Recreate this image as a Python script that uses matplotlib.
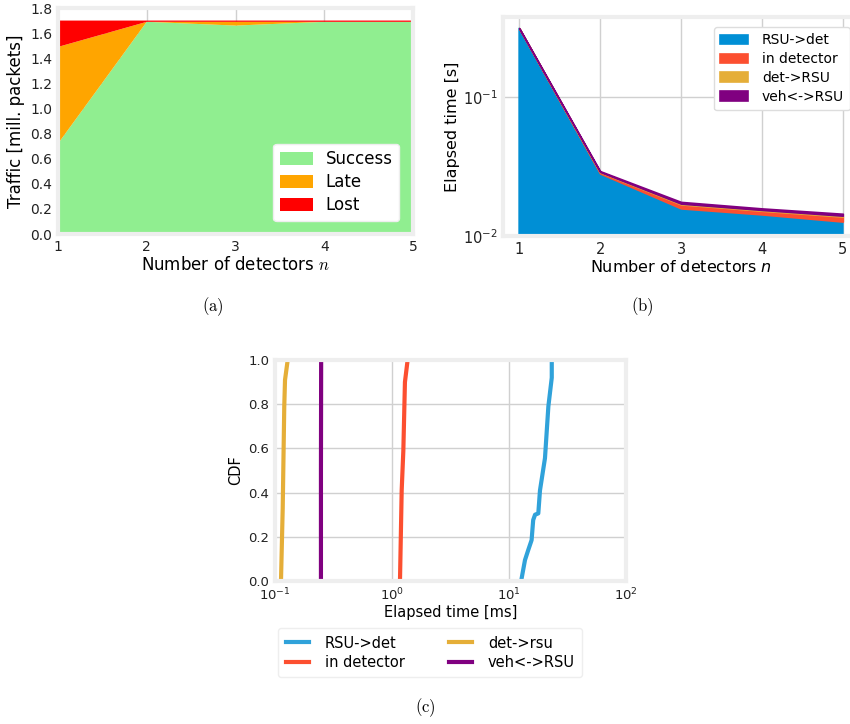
import matplotlib
matplotlib.use("Agg")
import matplotlib.pyplot as plt
import numpy as np

# ---------------- data ----------------
# (a) traffic per number of detectors, in million packets
detectors = [1, 2, 3, 4, 5]
success = [0.72, 1.69, 1.66, 1.69, 1.69]
late = [0.77, 0.0, 0.03, 0.0, 0.0]
lost = [0.21, 0.01, 0.01, 0.01, 0.01]

# (b) elapsed time per stage, in seconds
rsu_det = [0.312, 0.0282, 0.0158, 0.0143, 0.0127]
in_det = [0.0012, 0.0006, 0.0011, 0.0009, 0.0011]
det_rsu = [0.00012, 0.00012, 0.0002, 0.0002, 0.0002]
veh_rsu = [0.00025, 0.0004, 0.0005, 0.0004, 0.00046]

# (c) CDF of per-packet times, in ms (values, cumulative fraction)
cdf_rsu_det_x = [12.7, 13.7, 14.6, 15.6, 16.1, 16.7, 17.8, 18.4, 20.3, 21.7, 23.2, 23.2]
cdf_rsu_det_y = [0.0, 0.095, 0.14, 0.185, 0.276, 0.30, 0.306, 0.41, 0.556, 0.79, 0.92, 1.0]
cdf_in_det_x = [1.17, 1.21, 1.25, 1.29, 1.36]
cdf_in_det_y = [0.0, 0.41, 0.59, 0.90, 1.0]
cdf_det_rsu_x = [0.1125, 0.1164, 0.120, 0.1218, 0.1284]
cdf_det_rsu_y = [0.0, 0.33, 0.79, 0.91, 1.0]
cdf_veh_rsu_x = [0.247, 0.247, 0.248]
cdf_veh_rsu_y = [0.0, 0.5, 1.0]

c_blue = "#008fd5"
c_blue_line = "#30a2da"
c_red = "#fc4f30"
c_yellow = "#e5ae38"
c_purple = "#800080"
spine_col = "#eeeeee"
grid_col = "#d0d0d0"

W, H = 850, 724
fig = plt.figure(figsize=(W / 100, H / 100), dpi=100)


def px_axes(left, right, top, bottom):
    return fig.add_axes([left / W, 1 - bottom / H, (right - left) / W, (bottom - top) / H])


def style(ax, tick_size):
    for s in ax.spines.values():
        s.set_color(spine_col)
        s.set_linewidth(3)
    ax.grid(True, color=grid_col, linewidth=1)
    ax.set_axisbelow(True)
    ax.tick_params(length=0, labelsize=tick_size, pad=4, colors="#222222")


# ---------------- (a) ----------------
ax1 = px_axes(58, 413, 8, 234)
ax1.stackplot(detectors, success, late, lost,
              colors=["#90ee90", "#ffa500", "#ff0000"],
              labels=["Success", "Late", "Lost"])
style(ax1, 10)
ax1.set_xlim(1, 5)
ax1.set_ylim(0, 1.8)
ax1.set_xticks(detectors)
ax1.set_yticks(np.arange(0, 1.81, 0.2))
ax1.set_ylabel("Traffic [mill. packets]", fontsize=12)
xl = ax1.set_xlabel("Number of detectors $n$", fontsize=12, labelpad=2)
xl.set_math_fontfamily("cm")
ax1.legend(loc="lower right", fontsize=12, frameon=True, framealpha=1,
           facecolor="white", edgecolor="#eeeeee", borderpad=0.4,
           handlelength=2.0, handleheight=0.85, handletextpad=0.75,
           labelspacing=0.3, bbox_to_anchor=(0.985, 0.02))

# ---------------- (b) ----------------
ax2 = px_axes(503, 859, 17, 236)
ax2.stackplot(detectors, rsu_det, in_det, det_rsu, veh_rsu,
              colors=[c_blue, c_red, c_yellow, c_purple],
              labels=["RSU->det", "in detector", "det->RSU", "veh<->RSU"],
              edgecolor="face", linewidth=1.2)
ax2.set_yscale("log")
style(ax2, 10.5)
ax2.set_xlim(0.8, 5.2)
ax2.set_ylim(0.01, 0.377)
ax2.set_xticks(detectors)
ax2.set_yticks([0.01, 0.1])
ax2.set_yticklabels([r"$10^{-2}$", r"$10^{-1}$"])
ax2.yaxis.set_minor_locator(matplotlib.ticker.NullLocator())
ax2.set_ylabel("Elapsed time [s]", fontsize=11.5, labelpad=2)
ax2.set_xlabel("Number of detectors $n$", fontsize=11.5, labelpad=2)
ax2.legend(loc="upper right", fontsize=10, frameon=True, framealpha=1,
           edgecolor="#dddddd", borderpad=0.45, handlelength=2.0,
           handletextpad=1.0, labelspacing=0.35, bbox_to_anchor=(0.995, 0.985))

# ---------------- (c) ----------------
ax3 = px_axes(275, 626, 360, 581)
lw = 3
ax3.plot(cdf_rsu_det_x, cdf_rsu_det_y, color=c_blue_line, lw=lw, label="RSU->det")
ax3.plot(cdf_in_det_x, cdf_in_det_y, color=c_red, lw=lw, label="in detector")
ax3.plot(cdf_det_rsu_x, cdf_det_rsu_y, color=c_yellow, lw=lw, label="det->rsu")
ax3.plot(cdf_veh_rsu_x, cdf_veh_rsu_y, color=c_purple, lw=lw, label="veh<->RSU")
ax3.set_xscale("log")
style(ax3, 9.5)
ax3.set_xlim(0.1, 100)
ax3.set_ylim(0, 1)
ax3.set_yticks(np.arange(0, 1.01, 0.2))
ax3.xaxis.set_minor_locator(matplotlib.ticker.NullLocator())
ax3.set_ylabel("CDF", fontsize=10.5)
ax3.set_xlabel("Elapsed time [ms]", fontsize=10.5, labelpad=1)
h, l = ax3.get_legend_handles_labels()
fig.legend(h, l, loc="upper left", bbox_to_anchor=(271 / W, 1 - 621 / H), ncol=2,
           fontsize=10.5, frameon=True, framealpha=1, edgecolor="#eeeeee",
           handlelength=1.6, handletextpad=1.1, columnspacing=3.0,
           labelspacing=0.3, borderpad=0.5)

# ---------------- captions ----------------
for txt, x, y in [("(a)", 213, 307), ("(b)", 642, 307), ("(c)", 425, 708)]:
    t = fig.text(x / W, 1 - y / H, r"$\mathrm{" + txt + "}$", ha="center", va="center", fontsize=12)
    t.set_math_fontfamily("cm")

fig.savefig("out.png", dpi=100)
